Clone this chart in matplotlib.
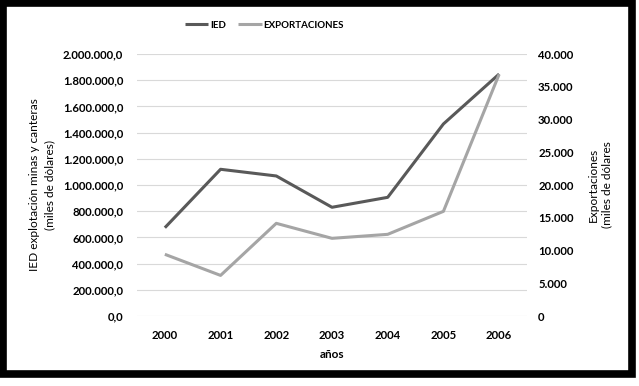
import matplotlib.pyplot as plt
from matplotlib.patches import Rectangle
from matplotlib.ticker import FuncFormatter, MultipleLocator

plt.rcParams['font.family'] = ['Lato', 'DejaVu Sans']

years = ["2000", "2001", "2002", "2003", "2004", "2005", "2006"]
ied = [674000, 1120000, 1069000, 830000, 906000, 1466000, 1847000]
exportaciones = [9420, 6200, 14150, 11860, 12470, 15980, 36900]


def fmt_left(v, pos):
    return f"{v:,.1f}".replace(",", "X").replace(".", ",").replace("X", ".")


def fmt_right(v, pos):
    return f"{v:,.0f}".replace(",", ".")


fig = plt.figure(figsize=(6.39, 3.86), dpi=100)
ax = fig.add_axes([0.2144, 0.1813, 0.6103, 0.6788])
ax2 = ax.twinx()

x = range(len(years))
l1, = ax.plot(x, ied, color="#595959", lw=2.2, solid_capstyle="butt", label="IED")
l2, = ax2.plot(x, exportaciones, color="#a5a5a5", lw=2.2, solid_capstyle="butt", label="EXPORTACIONES")

ax.set_xlim(-0.5, 6.5)
ax.set_ylim(0, 2000000)
ax2.set_ylim(0, 40000)
ax.yaxis.set_major_locator(MultipleLocator(200000))
ax2.yaxis.set_major_locator(MultipleLocator(5000))
ax.yaxis.set_major_formatter(FuncFormatter(fmt_left))
ax2.yaxis.set_major_formatter(FuncFormatter(fmt_right))
ax.set_xticks(list(x))
ax.set_xticklabels(years)

ax.grid(axis="y", color="#d9d9d9", lw=0.8)
ax.set_axisbelow(True)
for a in (ax, ax2):
    for s in a.spines.values():
        s.set_visible(False)
    a.tick_params(length=0, labelsize=8.2, labelcolor="#000000")
    for t in a.get_xticklabels() + a.get_yticklabels():
        t.set_fontweight("bold")
ax.tick_params(axis="y", pad=10)
ax.tick_params(axis="x", pad=10)
ax2.tick_params(axis="y", pad=8)

ax.set_xlabel("años", fontsize=8.5, fontweight="bold", labelpad=6)
ax.set_ylabel("IED explotación minas y canteras\n(miles de dòlares)", fontsize=8.6,
              labelpad=5, linespacing=1.55)
ax2.set_ylabel("Exportaciones\n(miles de dólares", fontsize=8.6, labelpad=10,
               linespacing=1.35)

fig.legend(handles=[l1, l2], loc="center left", bbox_to_anchor=(185 / 639, 0.935), ncol=2,
           frameon=False, prop={"size": 7, "weight": "bold"}, borderpad=0, borderaxespad=0,
           handlelength=2.4, handletextpad=0.15, columnspacing=1.3)

fig.patches.append(Rectangle((3 / 639, 1 - 373.5 / 386), 628.5 / 639, 371 / 386,
                             transform=fig.transFigure, fill=False,
                             edgecolor="black", lw=5.5))

fig.savefig("out.png", dpi=100)
